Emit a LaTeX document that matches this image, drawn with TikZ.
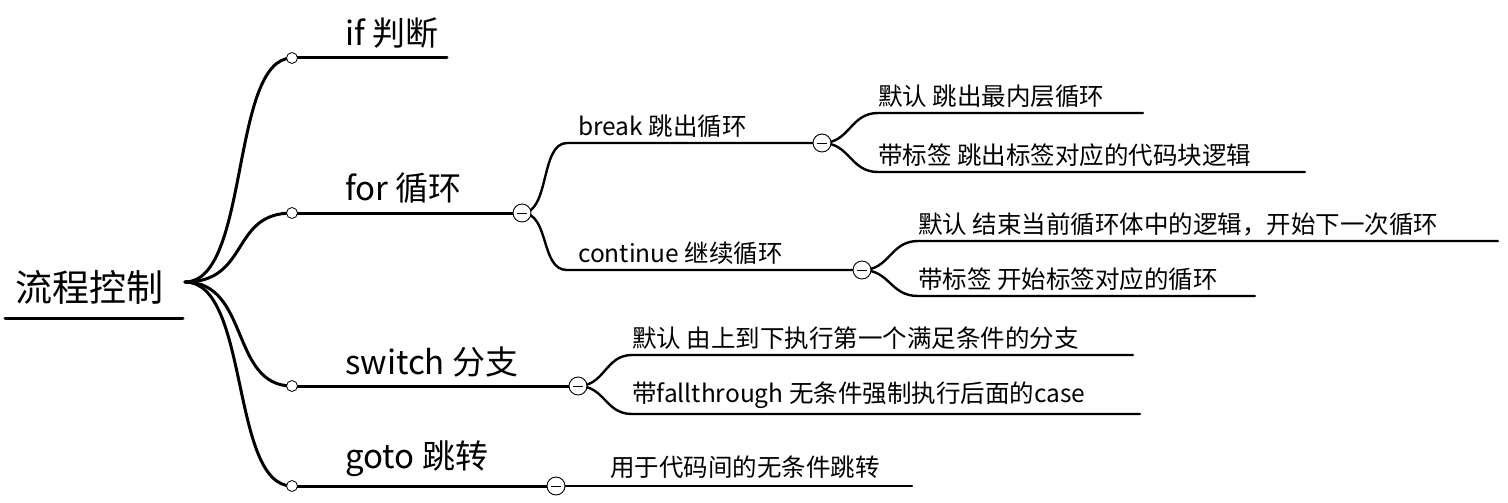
\documentclass[tikz,border=0pt]{standalone}
\usepackage{fontspec}
\setmainfont{Noto Sans CJK SC}
\begin{document}
\begin{tikzpicture}[x=1pt,y=-1pt,
  ln/.style={line width=3pt,line cap=round},
  ln2/.style={line width=2.4pt,line cap=round},
  dot/.style={circle,draw,fill=white,line width=0.8pt,inner sep=0pt,minimum size=11pt},
  mc/.style={circle,draw,fill=white,line width=0.9pt,inner sep=0pt,minimum size=18pt,
    path picture={\draw[line width=0.8pt] ([xshift=-5pt]path picture bounding box.center)--([xshift=5pt]path picture bounding box.center);}},
  t1/.style={anchor=south west,inner sep=0pt,font=\fontsize{33}{34}\selectfont},
  t2/.style={anchor=south west,inner sep=0pt,font=\fontsize{24.5}{26}\selectfont},
  root/.style={anchor=south,inner sep=0pt,font=\fontsize{37}{38}\selectfont}]
\useasboundingbox (0,0) rectangle (1508,503);
% root
\coordinate (r0) at (5,318); \coordinate (r1) at (183,318);
\draw[ln] (r0)--(r1);
\node[root] (rt) at (90,305) {流程控制};
\coordinate (R) at (185,282);
% level 1
\foreach \n/\y/\e in {if/58/447,for/213/522,sw/386/578,go/486/556}{
  \coordinate (\n s) at (292,\y); \coordinate (\n e) at (\e,\y);
  \draw[ln] (R) .. controls (250,282) and (230,\y) .. (\n s);
  \draw[ln] (\n s)--(\n e);
}
\node[dot] (ifd) at (ifs) {};
\node[dot] (ford) at (fors) {};
\node[dot] (swd) at (sws) {};
\node[dot] (god) at (gos) {};
\node[t1] (ift) at (345,49) {if 判断};
\node[t1] (fort) at (345,204) {for 循环};
\node[t1] (swt) at (345,377) {switch 分支};
\node[t1] (got) at (345,477) {goto 跳转};
% for children
\coordinate (bs) at (567,143); \coordinate (be) at (822,143);
\coordinate (cs) at (567,270); \coordinate (ce) at (862,270);
\draw[ln2] (fore) .. controls (550,213) and (540,143) .. (bs) -- (be);
\draw[ln2] (fore) .. controls (550,213) and (540,270) .. (cs) -- (ce);
\node[mc] (form) at (fore) {};
\node[t2] (bt) at (578,138) {break 跳出循环};
\node[t2] (ct) at (578,265) {continue 继续循环};
% break children
\coordinate (b1s) at (878,113); \coordinate (b1e) at (1143,113);
\coordinate (b2s) at (878,172); \coordinate (b2e) at (1305,172);
\draw[ln2] (be) .. controls (850,143) and (850,113) .. (b1s) -- (b1e);
\draw[ln2] (be) .. controls (850,143) and (850,172) .. (b2s) -- (b2e);
\node[mc] (bm) at (be) {};
\node[t2] (b1t) at (878,108) {默认 跳出最内层循环};
\node[t2] (b2t) at (878,167) {带标签 跳出标签对应的代码块逻辑};
% continue children
\coordinate (c1s) at (918,241); \coordinate (c1e) at (1498,241);
\coordinate (c2s) at (918,296); \coordinate (c2e) at (1255,296);
\draw[ln2] (ce) .. controls (890,270) and (890,241) .. (c1s) -- (c1e);
\draw[ln2] (ce) .. controls (890,270) and (890,296) .. (c2s) -- (c2e);
\node[mc] (cm) at (ce) {};
\node[t2] (c1t) at (918,236) {默认 结束当前循环体中的逻辑，开始下一次循环};
\node[t2] (c2t) at (918,291) {带标签 开始标签对应的循环};
% switch children
\coordinate (s1s) at (632,355); \coordinate (s1e) at (1133,355);
\coordinate (s2s) at (632,414); \coordinate (s2e) at (1140,414);
\draw[ln2] (swe) .. controls (605,386) and (605,355) .. (s1s) -- (s1e);
\draw[ln2] (swe) .. controls (605,386) and (605,414) .. (s2s) -- (s2e);
\node[mc] (swm) at (swe) {};
\node[t2] (s1t) at (632,350) {默认 由上到下执行第一个满足条件的分支};
\node[t2] (s2t) at (632,409) {带fallthrough 无条件强制执行后面的case};
% goto child
\coordinate (g1e) at (912,486);
\draw[ln2] (goe) -- (g1e);
\node[mc] (gom) at (goe) {};
\node[t2] (g1t) at (610,479) {用于代码间的无条件跳转};
\end{tikzpicture}
\end{document}
